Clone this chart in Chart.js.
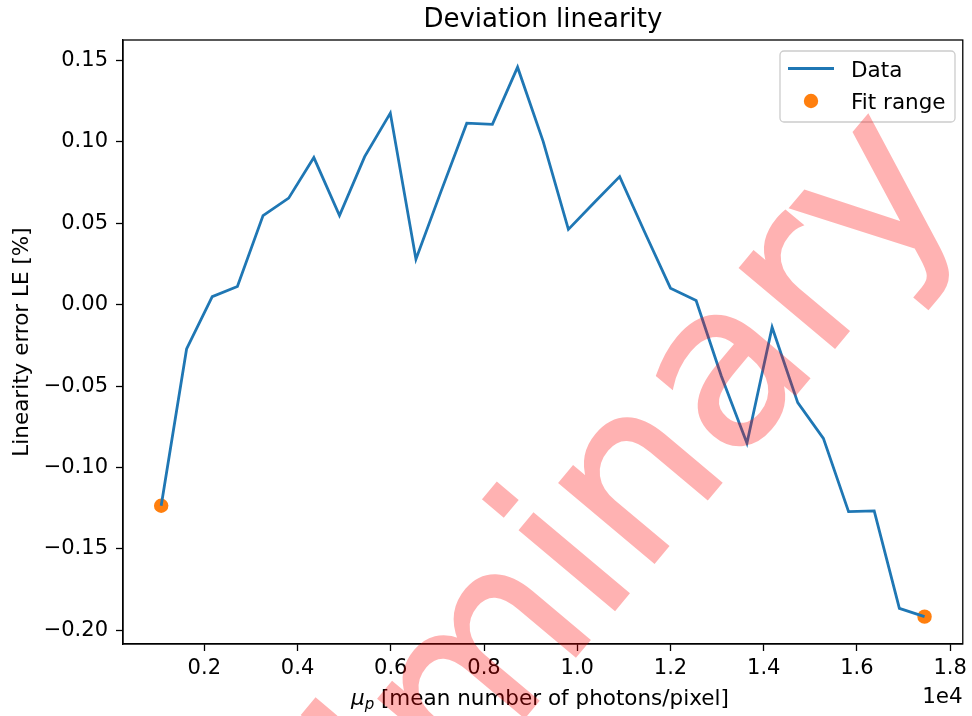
<!DOCTYPE html>
<html>
<head>
<meta charset="utf-8">
<script src="https://cdn.jsdelivr.net/npm/chart.js@4.4.1/dist/chart.umd.min.js"></script>
<style>
  html, body { margin: 0; padding: 0; background: #fff; }
  #wrap { width: 972px; height: 716px; }
</style>
</head>
<body>
<div id="wrap"><canvas id="chart" width="972" height="716"></canvas></div>
<script>
// mean number of photons per pixel for each measurement
const photons = [1075, 1620, 2170, 2710, 3260, 3810, 4350, 4900, 5440, 5990, 6540,
  7080, 7630, 8180, 8720, 9270, 9810, 10360, 10910, 11450, 12000, 12550, 13090,
  13640, 14180, 14730, 15280, 15820, 16370, 16910, 17450];
// linearity error LE [%]
const linErr = [-0.1235, -0.0272, 0.0049, 0.0111, 0.0547, 0.0654, 0.0903, 0.0547,
  0.0909, 0.1176, 0.0279, 0.0697, 0.1114, 0.1107, 0.1458, 0.1001, 0.0462, 0.0625,
  0.0786, 0.0443, 0.0101, 0.0025, -0.0438, -0.0851, -0.0139, -0.0602, -0.0821,
  -0.1271, -0.1267, -0.1865, -0.1916];
// ends of the fit range
const fitX = [1075, 17450];
const fitY = [-0.1235, -0.1916];

const xTickValues = [2000, 4000, 6000, 8000, 10000, 12000, 14000, 16000, 18000];
const xTickLabels = ['0.2', '0.4', '0.6', '0.8', '1.0', '1.2', '1.4', '1.6', '1.8'];
const yTickValues = [-0.20, -0.15, -0.10, -0.05, 0.00, 0.05, 0.10, 0.15];
const yTickLabels = ['\u22120.20', '\u22120.15', '\u22120.10', '\u22120.05', '0.00', '0.05', '0.10', '0.15'];

const FONT = '"DejaVu Sans", sans-serif';
const BLUE = '#1f77b4';
const ORANGE = '#ff7f0e';

const decorations = {
  id: 'decorations',
  afterDraw(chart) {
    const ctx = chart.ctx;
    const a = chart.chartArea;
    ctx.save();

    // axes frame
    ctx.strokeStyle = '#000';
    ctx.lineWidth = 1.3;
    ctx.strokeRect(a.left, a.top, a.right - a.left, a.bottom - a.top);

    ctx.fillStyle = '#000';
    // title
    ctx.font = '26px ' + FONT;
    ctx.textAlign = 'center';
    ctx.textBaseline = 'alphabetic';
    ctx.fillText('Deviation linearity', (a.left + a.right) / 2, 27);

    // x label with italic mu and subscript p
    ctx.textAlign = 'left';
    const rest = ' [mean number of photons/pixel]';
    ctx.font = 'italic 21.5px ' + FONT;
    const wMu = ctx.measureText('\u03bc').width;
    ctx.font = 'italic 15px ' + FONT;
    const wP = ctx.measureText('p').width;
    ctx.font = '21.5px ' + FONT;
    const wRest = ctx.measureText(rest).width;
    let x = (a.left + a.right) / 2 - (wMu + wP + wRest) / 2 - 3;
    const base = 705;
    ctx.font = 'italic 21.5px ' + FONT;
    ctx.fillText('\u03bc', x, base);
    x += wMu;
    ctx.font = 'italic 15px ' + FONT;
    ctx.fillText('p', x, base + 4);
    x += wP;
    ctx.font = '21.5px ' + FONT;
    ctx.fillText(rest, x, base);

    // offset text
    ctx.textAlign = 'right';
    ctx.fillText('1e4', a.right, 703);

    // y label
    ctx.save();
    ctx.translate(28, (a.top + a.bottom) / 2);
    ctx.rotate(-Math.PI / 2);
    ctx.textAlign = 'center';
    ctx.fillText('Linearity error LE [%]', 0, 0);
    ctx.restore();

    // legend
    const lx = 780, ly = 51, lw = 175, lh = 71;
    ctx.beginPath();
    ctx.roundRect(lx, ly, lw, lh, 4);
    ctx.fillStyle = 'rgba(255,255,255,0.8)';
    ctx.fill();
    ctx.strokeStyle = '#cccccc';
    ctx.lineWidth = 1.3;
    ctx.stroke();

    ctx.strokeStyle = BLUE;
    ctx.lineWidth = 2.8;
    ctx.beginPath();
    ctx.moveTo(788, 68.5);
    ctx.lineTo(834, 68.5);
    ctx.stroke();
    ctx.fillStyle = ORANGE;
    ctx.beginPath();
    ctx.arc(811, 101, 7.2, 0, Math.PI * 2);
    ctx.fill();

    ctx.fillStyle = '#000';
    ctx.font = '21.5px ' + FONT;
    ctx.textAlign = 'left';
    ctx.fillText('Data', 851, 76.5);
    ctx.fillText('Fit range', 851, 108.5);

    // watermark: drawn opaque off-screen, then laid over with alpha
    const off = document.createElement('canvas');
    off.width = chart.width;
    off.height = chart.height;
    const o = off.getContext('2d');
    o.translate(150, 1163);
    o.rotate(-50 * Math.PI / 180);
    o.font = '225px ' + FONT;
    o.fillStyle = '#ff0000';
    o.strokeStyle = '#ff0000';
    o.lineWidth = 3;
    o.lineJoin = 'miter';
    o.textAlign = 'left';
    o.textBaseline = 'alphabetic';
    o.fillText('Preliminary', 0, 0);
    o.strokeText('Preliminary', 0, 0);
    ctx.globalAlpha = 0.3;
    ctx.drawImage(off, 0, 0);

    ctx.restore();
  }
};

new Chart(document.getElementById('chart'), {
  type: 'scatter',
  data: {
    datasets: [
      {
        label: 'Data',
        data: photons.map((p, i) => ({ x: p, y: linErr[i] })),
        showLine: true,
        borderColor: BLUE,
        borderWidth: 2.8,
        pointRadius: 0,
        tension: 0,
        fill: false,
      },
      {
        label: 'Fit range',
        data: fitX.map((p, i) => ({ x: p, y: fitY[i] })),
        showLine: false,
        backgroundColor: ORANGE,
        borderColor: ORANGE,
        borderWidth: 0,
        pointRadius: 7.2,
      },
    ],
  },
  options: {
    responsive: false,
    animation: false,
    devicePixelRatio: 1,
    layout: { padding: { top: 40, right: 6, left: 0, bottom: 0 } },
    plugins: {
      legend: { display: false },
      title: { display: false },
      tooltip: { enabled: false },
    },
    scales: {
      x: {
        type: 'linear',
        min: 256,
        max: 18270,
        afterFit: s => { s.height = 72; },
        afterBuildTicks: s => { s.ticks = xTickValues.map(v => ({ value: v })); },
        grid: { drawOnChartArea: false, drawTicks: true, tickLength: 7, color: '#000', tickWidth: 1.3 },
        border: { display: true, color: '#000', width: 1.3 },
        ticks: {
          color: '#000',
          font: { family: FONT, size: 21 },
          padding: 5,
          maxRotation: 0,
          autoSkip: false,
          callback: (v, i) => xTickLabels[i],
        },
      },
      y: {
        type: 'linear',
        min: -0.2084,
        max: 0.1625,
        afterFit: s => { s.width = 123; },
        afterBuildTicks: s => { s.ticks = yTickValues.map(v => ({ value: v })); },
        grid: { drawOnChartArea: false, drawTicks: true, tickLength: 7, color: '#000', tickWidth: 1.3 },
        border: { display: true, color: '#000', width: 1.3 },
        ticks: {
          color: '#000',
          font: { family: FONT, size: 21 },
          padding: 8,
          autoSkip: false,
          callback: (v, i) => yTickLabels[i],
        },
      },
    },
  },
  plugins: [decorations],
});
</script>
</body>
</html>
